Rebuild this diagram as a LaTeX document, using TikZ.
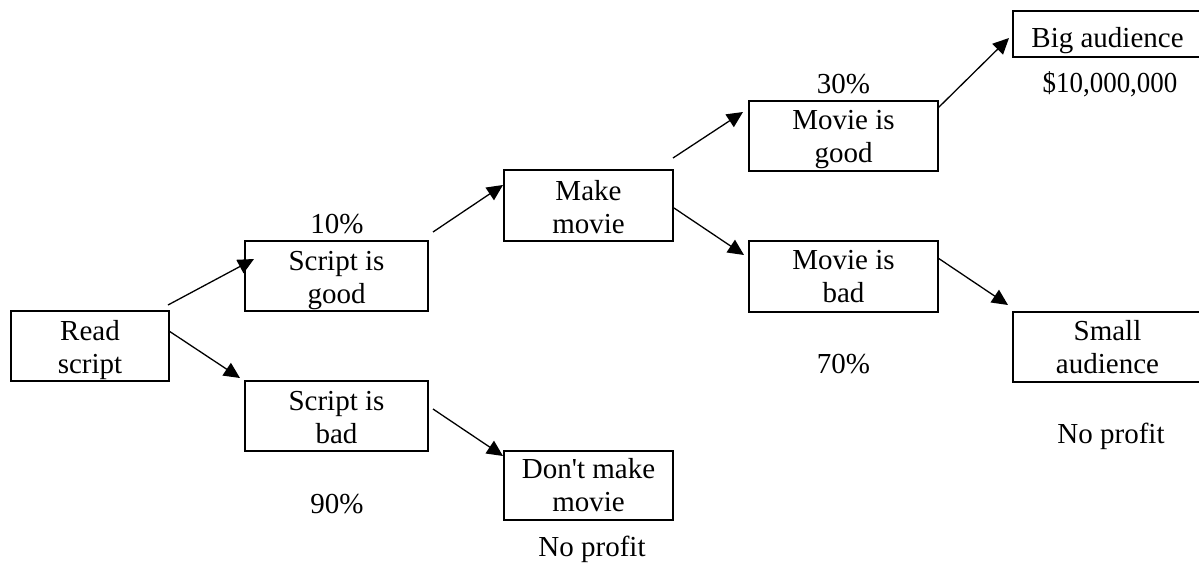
\documentclass[tikz,border=0pt]{standalone}
\usepackage{fontspec}
\setmainfont{Liberation Serif}[Ligatures=TeXOff]
\usetikzlibrary{arrows.meta,calc}
\begin{document}
\begin{tikzpicture}[x=1pt,y=-1pt,
  thinbox/.style={draw,line width=1.1pt,rectangle,inner sep=0pt,outer sep=0pt},
  thickbox/.style={draw,line width=1.9pt,rectangle,inner sep=0pt,outer sep=0pt},
  txt/.style={font=\fontsize{29}{33}\selectfont,align=center,anchor=base,inner sep=0pt},
  arr/.style={line width=1.3pt,-{Triangle[length=16pt,width=15pt]}}]
\useasboundingbox (0,0) rectangle (1199,565);
\clip (0,0) rectangle (1199,565);

% boxes
\node[thinbox,minimum width=158pt,minimum height=70pt] (read)  at (90,346) {};
\node[thinbox,minimum width=183pt,minimum height=70pt] (sgood) at (336.5,276) {};
\node[thinbox,minimum width=183pt,minimum height=70pt] (sbad)  at (336.5,416) {};
\node[thinbox,minimum width=169pt,minimum height=71pt] (make)  at (588.5,205.5) {};
\node[thinbox,minimum width=169pt,minimum height=69pt] (dont)  at (588.5,485.5) {};
\node[thickbox,minimum width=189pt,minimum height=70pt] (mgood) at (843.5,136) {};
\node[thickbox,minimum width=189pt,minimum height=71pt] (mbad)  at (843.5,276.5) {};
\node[thickbox,minimum width=189pt,minimum height=46pt] (big)   at (1107.5,34) {};
\node[thickbox,minimum width=189pt,minimum height=70pt] (small) at (1107.5,347) {};

% box texts (base anchor = baseline of the last line)
\node[txt] (read-t)  at ($(read.north)+(0,62)$)  {Read\\script};
\node[txt] (sgood-t) at ($(sgood.north)+(0,62)$) {Script is\\good};
\node[txt] (sbad-t)  at ($(sbad.north)+(0,62)$)  {Script is\\bad};
\node[txt] (make-t)  at ($(make.north)+(0,63)$)  {Make\\movie};
\node[txt] (dont-t)  at ($(dont.north)+(0,60)$)  {Don't make\\movie};
\node[txt] (mgood-t) at ($(mgood.north)+(0,61)$) {Movie is\\good};
\node[txt] (mbad-t)  at ($(mbad.north)+(0,61)$)  {Movie is\\bad};
\node[txt] (big-t)   at ($(big.north)+(0,36)$)   {Big audience};
\node[txt] (small-t) at ($(small.north)+(0,61)$) {Small\\audience};

% labels
\node[txt] (p10) at (337,233) {10\%};
\node[txt] (p90) at (337,513) {90\%};
\node[txt] (p30) at (843.5,93) {30\%};
\node[txt] (p70) at (843.5,373) {70\%};
\node[txt] (money) at (1110,92) {\scalebox{0.93}[1]{\$10,000,000}};
\node[txt] (np1) at (592,556) {No profit};
\node[txt] (np2) at (1111,443) {No profit};

% arrows
\draw[arr] ($(read.north east)+(-1,-6)$) -- ($(sgood.north west)+(9,18)$);
\draw[arr] ($(read.north east)+(0,20)$)  -- ($(sbad.north west)+(-5,-3)$);
\draw[arr] ($(sgood.north east)+(5,-9)$) -- ($(make.north west)+(-1,15)$);
\draw[arr] ($(sbad.north east)+(5,28)$)  -- ($(dont.north west)+(-1,5)$);
\draw[arr] ($(make.north east)+(0,-12)$) -- ($(mgood.north west)+(-6,11)$);
\draw[arr] ($(make.north east)+(1,38)$)  -- ($(mbad.north west)+(-5,14)$);
\draw[arr] ($(mgood.north east)+(0,7)$)  -- ($(big.north west)+(-4,27)$);
\draw[arr] ($(mbad.north east)+(0,17)$)  -- ($(small.north west)+(-5,-7)$);
\end{tikzpicture}
\end{document}
